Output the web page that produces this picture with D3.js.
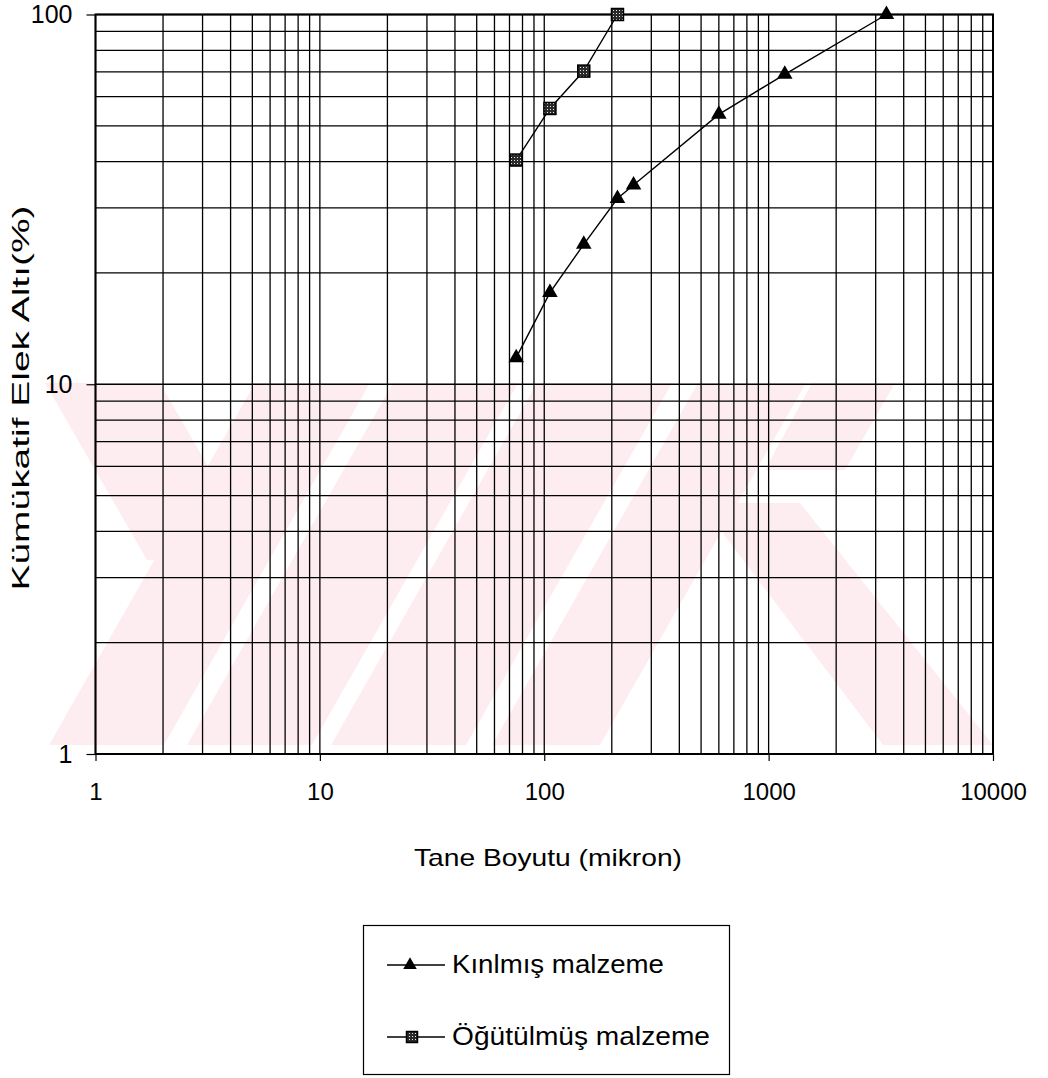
<!DOCTYPE html>
<html>
<head>
<meta charset="utf-8">
<script src="https://cdn.jsdelivr.net/npm/d3@7"></script>
<style>
  html, body { margin: 0; padding: 0; background: #fff; }
  svg { display: block; }
  text { font-family: Arial, "Liberation Sans", Helvetica, sans-serif; fill: #000; }
</style>
</head>
<body>
<svg id="chart" width="1048" height="1078"></svg>
<script>
// ---- data ----
const kirilmisSize = [75, 106, 150, 212, 250, 600, 1180, 3350];
const kirilmisPct  = [11.8, 17.7, 23.9, 31.8, 34.6, 53.7, 68.9, 100];
const ogutulmusSize = [75, 106, 150, 212];
const ogutulmusPct  = [40.4, 55.7, 70.3, 100];
const xTickValues = [1, 10, 100, 1000, 10000];
const yTickValues = [1, 10, 100];
const seriesNames = ["Kınlmış malzeme", "Öğütülmüş malzeme"];
const xTitle = "Tane Boyutu (mikron)";
const yTitle = "Kümükatif Elek Altı(%)";

// faint background watermark (decoration of the scanned page)
const watermark = [
  [[49,745],[164,745],[370,383],[255,383]],
  [[187,745],[312,745],[518,383],[393,383]],
  [[331,745],[466,745],[672,383],[537,383]],
  [[492,745],[600,745],[806,383],[698,383]],
  [[45,383],[160,383],[262,560],[147,560]],
  [[700,503],[800,503],[993,745],[883,745]],
  [[812,383],[895,383],[845,470],[765,470]]
];

const svg = d3.select("#chart");
const X0 = 95.5, X1 = 993, Y0 = 754, Y1 = 14.5;
const x = d3.scaleLog().domain([1, 10000]).range([X0, X1]);
const y = d3.scaleLog().domain([1, 100]).range([Y0, Y1]);

// pattern for square markers
const defs = svg.append("defs");
const pat = defs.append("pattern").attr("id", "dots").attr("patternUnits", "userSpaceOnUse")
  .attr("width", 3).attr("height", 3);
pat.append("rect").attr("width", 3).attr("height", 3).attr("fill", "#2a2a2a");
pat.append("rect").attr("x", 1).attr("y", 1).attr("width", 1).attr("height", 1).attr("fill", "#e8e8e8");

// watermark
svg.append("g").selectAll("polygon").data(watermark).join("polygon")
  .attr("points", d => d.map(p => p.join(",")).join(" "))
  .attr("fill", "#feedf0");

// grid lines (major + minor)
const minor = [];
for (let k = 0; k < 4; k++) for (let m = 1; m <= 9; m++) minor.push(m * Math.pow(10, k));
minor.push(10000);
const minorY = [];
for (let k = 0; k < 2; k++) for (let m = 1; m <= 9; m++) minorY.push(m * Math.pow(10, k));
minorY.push(100);

const grid = svg.append("g").attr("stroke", "#000").attr("stroke-width", 1.3);
grid.selectAll("line.v").data(minor).join("line").attr("class", "v")
  .attr("x1", d => x(d)).attr("x2", d => x(d))
  .attr("y1", Y1).attr("y2", Y0);
grid.selectAll("line.h").data(minorY).join("line").attr("class", "h")
  .attr("y1", d => y(d)).attr("y2", d => y(d))
  .attr("x1", X0).attr("x2", X1);

// frame
svg.append("rect").attr("x", X0).attr("y", Y1).attr("width", X1 - X0).attr("height", Y0 - Y1)
  .attr("fill", "none").attr("stroke", "#000").attr("stroke-width", 2);

// axes (outer ticks + labels)
const xAxis = d3.axisBottom(x).tickValues(xTickValues).tickSize(7).tickPadding(22)
  .tickFormat(d3.format("d"));
const gx = svg.append("g").attr("transform", `translate(0,${Y0})`).call(xAxis);
gx.select(".domain").remove();
gx.selectAll("line").attr("stroke", "#000").attr("stroke-width", 1.2);
gx.selectAll("text").attr("font-size", 24).attr("font-family", "Arial, 'Liberation Sans', sans-serif");

const yAxis = d3.axisLeft(y).tickValues(yTickValues).tickSize(9).tickPadding(14)
  .tickFormat(d3.format("d"));
const gy = svg.append("g").attr("transform", `translate(${X0},0)`).call(yAxis);
gy.select(".domain").remove();
gy.selectAll("line").attr("stroke", "#000").attr("stroke-width", 1.2);
gy.selectAll("text").attr("font-size", 25).attr("font-family", "Arial, 'Liberation Sans', sans-serif");

// titles
svg.append("text").attr("x", 548).attr("y", 866).attr("text-anchor", "middle")
  .attr("font-size", 24).attr("textLength", 268).attr("lengthAdjust", "spacingAndGlyphs").text(xTitle);
svg.append("text").attr("transform", "translate(29,398) rotate(-90)").attr("text-anchor", "middle")
  .attr("font-size", 24).attr("textLength", 385).attr("lengthAdjust", "spacingAndGlyphs").text(yTitle);

// series
const s1 = kirilmisSize.map((v, i) => [v, kirilmisPct[i]]);
const s2 = ogutulmusSize.map((v, i) => [v, ogutulmusPct[i]]);
const line = d3.line().x(d => x(d[0])).y(d => y(d[1]));

svg.append("path").datum(s1).attr("d", line).attr("fill", "none").attr("stroke", "#000").attr("stroke-width", 1.4);
svg.append("path").datum(s2).attr("d", line).attr("fill", "none").attr("stroke", "#000").attr("stroke-width", 1.4);

const tri = d3.symbol().type(d3.symbolTriangle).size(105);
svg.append("g").selectAll("path").data(s1).join("path")
  .attr("d", tri).attr("transform", d => `translate(${x(d[0])},${y(d[1])})`).attr("fill", "#000");

const sq = 12;
svg.append("g").selectAll("rect").data(s2).join("rect")
  .attr("x", d => x(d[0]) - sq / 2).attr("y", d => y(d[1]) - sq / 2)
  .attr("width", sq).attr("height", sq)
  .attr("fill", "url(#dots)").attr("stroke", "#000").attr("stroke-width", 1.5);

// legend
const lg = svg.append("g");
lg.append("rect").attr("x", 363.5).attr("y", 925.5).attr("width", 366).attr("height", 149)
  .attr("fill", "#fff").attr("stroke", "#000").attr("stroke-width", 1.2);
const legendRows = [
  { name: seriesNames[0], ly: 965, ty: 973, w: 212, kind: "tri" },
  { name: seriesNames[1], ly: 1037, ty: 1045, w: 258, kind: "sq" }
];
legendRows.forEach(r => {
  lg.append("line").attr("x1", 387).attr("x2", 445).attr("y1", r.ly).attr("y2", r.ly)
    .attr("stroke", "#000").attr("stroke-width", 1.4);
  if (r.kind === "tri") {
    lg.append("path").attr("d", d3.symbol().type(d3.symbolTriangle).size(80))
      .attr("transform", `translate(410,${r.ly})`).attr("fill", "#000");
  } else {
    lg.append("rect").attr("x", 412 - 5.5).attr("y", r.ly - 5.5).attr("width", 11).attr("height", 11)
      .attr("fill", "url(#dots)").attr("stroke", "#000").attr("stroke-width", 1.5);
  }
  lg.append("text").attr("x", 452).attr("y", r.ty).attr("font-size", 25)
    .attr("textLength", r.w).attr("lengthAdjust", "spacingAndGlyphs").text(r.name);
});
</script>
</body>
</html>
